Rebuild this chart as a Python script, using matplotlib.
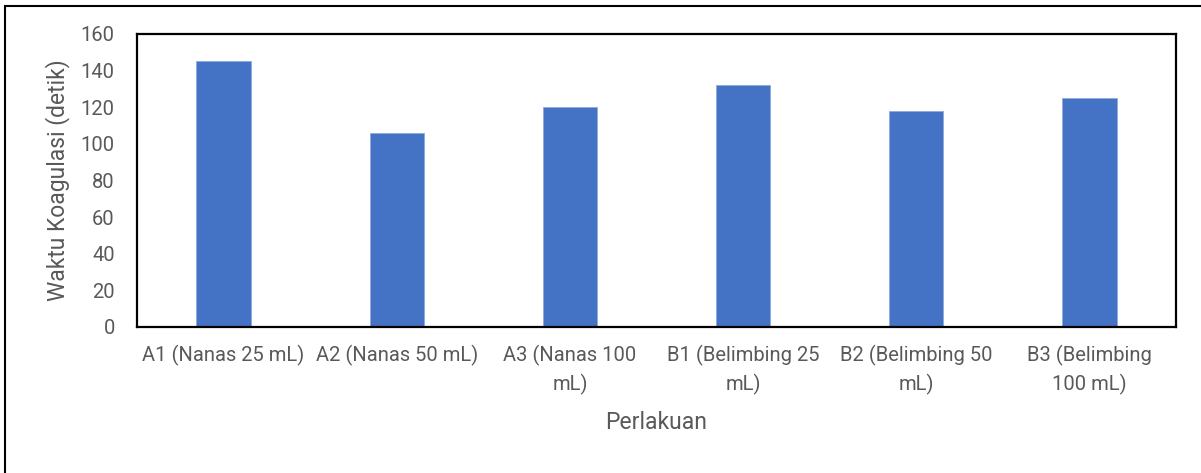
import matplotlib
matplotlib.use("Agg")
import matplotlib.pyplot as plt
from matplotlib.patches import Rectangle

categories = ["A1 (Nanas 25 mL)", "A2 (Nanas 50 mL)", "A3 (Nanas 100\nmL)",
              "B1 (Belimbing 25\nmL)", "B2 (Belimbing 50\nmL)", "B3 (Belimbing\n100 mL)"]
values = [145, 106, 120, 132, 118, 125]
yticks = [0, 20, 40, 60, 80, 100, 120, 140, 160]

plt.rcParams['font.family'] = ['Roboto', 'DejaVu Sans']
gray = "#595959"

fig = plt.figure(figsize=(12.01, 4.73), dpi=100)
ax = fig.add_axes([137/1201, 1-327/473, (1176-137)/1201, (327-34)/473])

x = list(range(len(categories)))
ax.bar(x, values, width=0.313, color="#4472C4", edgecolor="#8FAADC", linewidth=0.6, zorder=2)
ax.set_xlim(-0.5, len(categories)-0.5)
ax.set_ylim(0, 160)
ax.set_yticks(yticks)
ax.set_yticklabels([str(v) for v in yticks], fontsize=14.5, color=gray)
ax.set_xticks(x)
ax.set_xticklabels(categories, fontsize=14.5, color=gray, linespacing=1.45)
ax.tick_params(axis='both', length=0)
ax.tick_params(axis='x', pad=13)
ax.tick_params(axis='y', pad=16)
for s in ax.spines.values():
    s.set_color("black")
    s.set_linewidth(1.6)

ax.set_ylabel("Waktu Koagulasi (detik)", fontsize=16.5, color=gray, labelpad=8)
ax.set_xlabel("Perlakuan", fontsize=16.5, color=gray, labelpad=12)

frame = Rectangle((5/1201, -0.5), 2.0, 1.5 - 6/473, transform=fig.transFigure,
                  fill=False, edgecolor="black", linewidth=1.5, clip_on=False)
fig.add_artist(frame)

fig.savefig("out.png", dpi=100)
